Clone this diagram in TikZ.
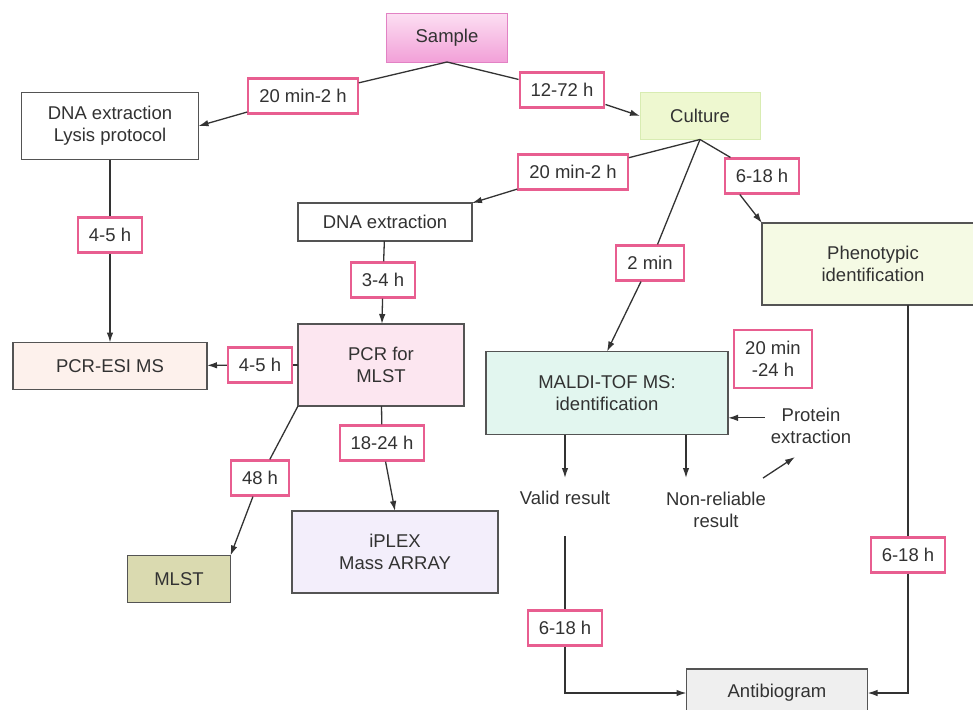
\documentclass[tikz,border=0pt]{standalone}
\usepackage{fontspec}
\setmainfont{Liberation Sans}
\usepackage{tikz}
\usetikzlibrary{arrows.meta,calc}
\definecolor{pinkline}{RGB}{232,94,144}
\definecolor{boxline}{RGB}{84,84,84}
\definecolor{txt}{RGB}{50,50,50}
\definecolor{samtop}{RGB}{252,222,242}
\definecolor{sambot}{RGB}{242,160,216}
\definecolor{samline}{RGB}{226,130,196}
\definecolor{culfill}{RGB}{238,248,208}
\definecolor{culline}{RGB}{216,236,178}
\definecolor{phenofill}{RGB}{245,250,228}
\definecolor{esifill}{RGB}{253,241,236}
\definecolor{pcrfill}{RGB}{252,230,240}
\definecolor{maldifill}{RGB}{226,246,239}
\definecolor{mlstfill}{RGB}{218,218,176}
\definecolor{iplexfill}{RGB}{243,238,251}
\definecolor{antifill}{RGB}{239,239,239}
\newcommand\boxfont{\fontsize{18.5}{22}\selectfont}

\begin{document}
\begin{tikzpicture}[x=1pt, y=-1pt,
     box/.style = {rectangle, draw=boxline, line width=1.6pt, text=txt,% main steps
                   align=center, font=\boxfont, inner sep=0pt, outer sep=0pt},
     lbl/.style = {rectangle, draw=pinkline, line width=2.2pt, fill=white,% times on the links
                   text=txt, font=\boxfont, inner xsep=11pt, minimum height=35pt},
   plain/.style = {text=txt, align=center, font=\boxfont, inner sep=6pt},
    line/.style = {draw=black!80, line width=1.3pt},
     arr/.style = {-{Latex[length=10pt,width=6.5pt]}},
                        ]
\clip (0,0) rectangle (973,709);
% main steps
\node[box, minimum width=121, minimum height=48, draw=samline, line width=1pt,
      top color=samtop, bottom color=sambot] (sample) at (447,38) {Sample};
\node[box, minimum width=120, minimum height=47, draw=culline, line width=1pt,
      fill=culfill] (culture) at (700,116) {Culture};
\node[box, minimum width=177, minimum height=67, fill=white] (lysis) at (110,126) {DNA extraction\\Lysis protocol};
\node[box, minimum width=174, minimum height=38, fill=white] (dna) at (385,222) {DNA extraction};
\node[box, minimum width=222, minimum height=82, fill=phenofill] (pheno) at (873,264) {Phenotypic\\identification};
\node[box, minimum width=194, minimum height=47, fill=esifill] (esi) at (110,366) {PCR-ESI MS};
\node[box, minimum width=166, minimum height=82, fill=pcrfill] (pcr) at (381,365) {PCR for\\MLST};
\node[box, minimum width=242, minimum height=83, fill=maldifill] (maldi) at (607,393) {MALDI-TOF MS:\\identification};
\node[box, minimum width=103, minimum height=47, fill=mlstfill] (mlst) at (179,579) {MLST};
\node[box, minimum width=206, minimum height=82, fill=iplexfill] (iplex) at (395,552) {iPLEX\\Mass ARRAY};
\node[box, minimum width=181, minimum height=48, fill=antifill] (anti) at (777,693) {Antibiogram};
% plain texts
\node[plain] (valid) at (565,498) {Valid result};
\node[plain] (nonrel) at (716,510) {Non-reliable\\result};
\node[plain] (protein) at (811,426) {Protein\\extraction};
% times
\foreach \n/\x/\y/\t in {t1/303/96/{20 min-2 h}, t2/562/90/{12-72 h},
        t3/573/172/{20 min-2 h}, t4/762/176/{6-18 h}, t5/650/263/{2 min},
        t6/110/235/{4-5 h}, t7/383/280/{3-4 h}, t8/260/365/{4-5 h},
        t9/260/478/{48 h}, t10/382/443/{18-24 h}, t11/565/628/{6-18 h},
        t12/908/555/{6-18 h}}% <-- name/position/content
    \node[lbl] (\n) at (\x,\y) {\t};
\node[lbl, align=center, minimum height=58pt] (t13) at (773,359) {20 min\\-24 h};
% links
\draw[line] (sample.south) -- (t1);
\draw[line, arr] (t1) -- (lysis.east);
\draw[line] (sample.south) -- (t2);
\draw[line, arr] (t2) -- (culture.west);
\draw[line] (culture.south) -- (t3);
\draw[line, arr] (t3) -- (dna.north east);
\draw[line] (culture.south) -- (t4);
\draw[line, arr] (t4.220) -- (pheno.north west);
\draw[line] (culture.south) -- (t5);
\draw[line, arr] (t5) -- (maldi.north);
\draw[line] (lysis) -- (t6);
\draw[line, arr] (t6) -- (esi);
\draw[line] (dna) -- (t7);
\draw[line, arr] (t7) -- (pcr);
\draw[line] (pcr) -- (t8);
\draw[line, arr] (t8) -- (esi);
\draw[line] (pcr.south west) -- (t9);
\draw[line, arr] (t9) -- (mlst.north east);
\draw[line] (pcr) -- (t10);
\draw[line, arr] (t10) -- (iplex.north);
\draw[line, arr] (maldi.south -| valid) -- ([yshift=7pt]valid.north);
\draw[line, arr] ($(maldi.south)+(79,0)$) coordinate (nr) -- ([yshift=8pt]nr |- nonrel.north);
\draw[line, arr] (protein.170) -- (protein.170 -| maldi.east);
\draw[line, arr] ([xshift=-9pt,yshift=8pt]nonrel.north east) -- ([xshift=-16pt,yshift=-7pt]protein.south);
\draw[line] ([yshift=-25pt]valid.south) -- (t11);
\draw[line, arr] (t11.south) |- (anti.west);
\draw[line] (pheno.south -| t12) -- (t12);
\draw[line, arr] (t12.south) |- (anti.east);
\end{tikzpicture}
\end{document}
